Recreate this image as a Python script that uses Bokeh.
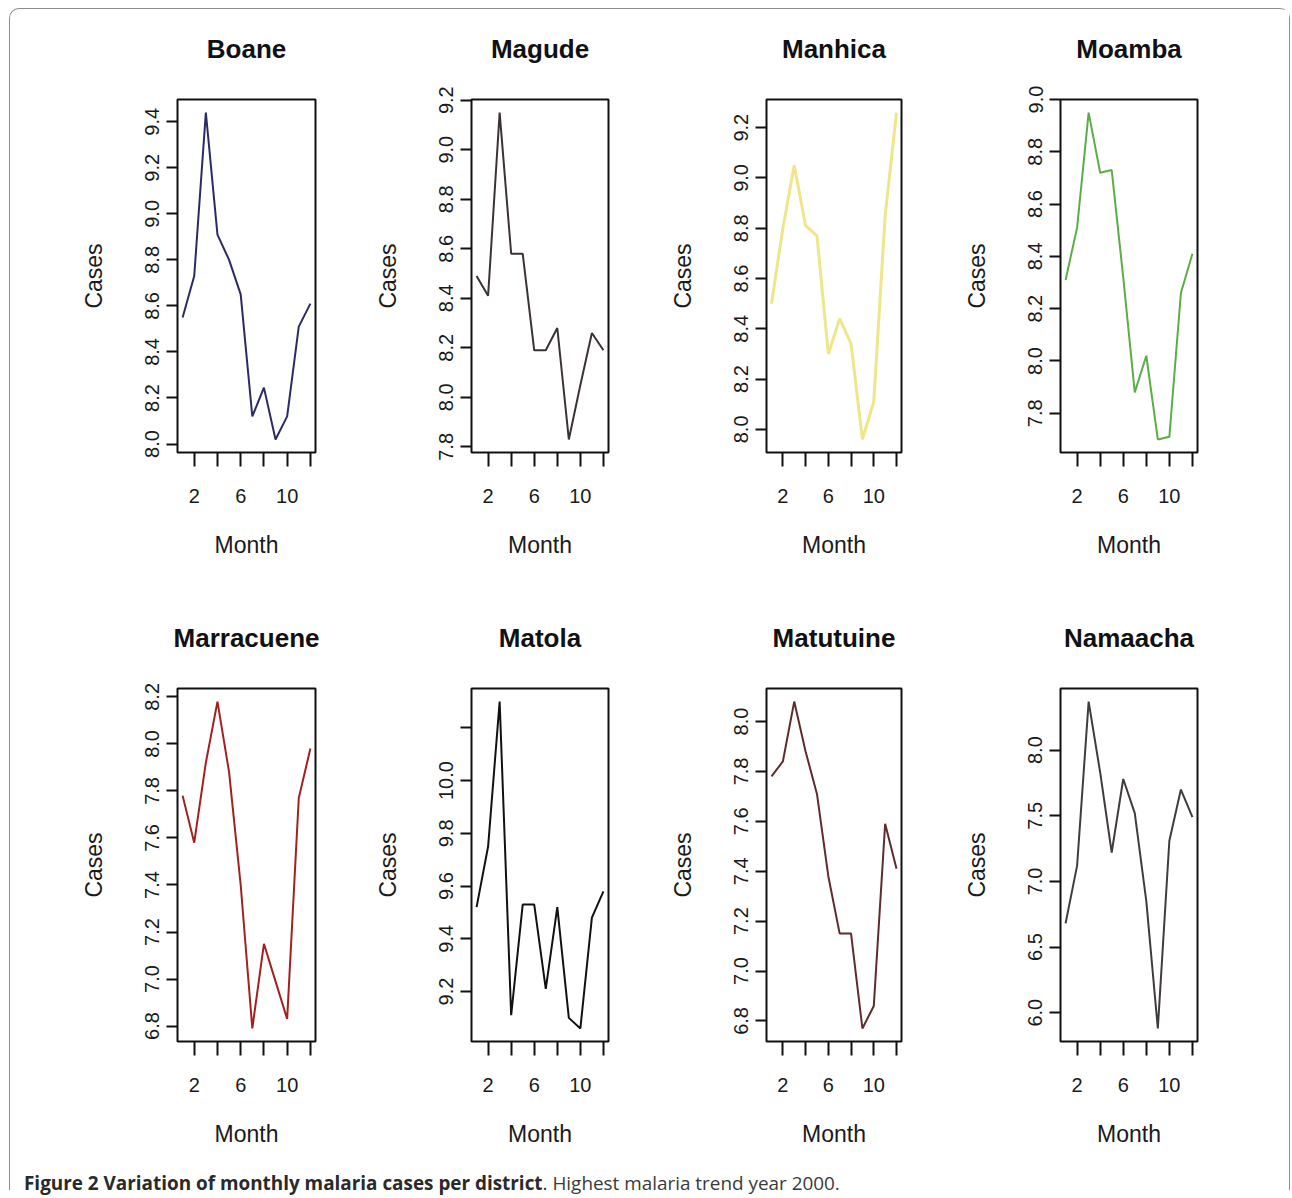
import math
from bokeh.plotting import figure
from bokeh.layouts import row, column
from bokeh.models import Range1d, FixedTicker, Div, Spacer, PrintfTickFormatter, Title
from bokeh.embed import file_html
from bokeh.resources import INLINE

# ---------------- data ----------------
months = [1, 2, 3, 4, 5, 6, 7, 8, 9, 10, 11, 12]
districts = ["Boane", "Magude", "Manhica", "Moamba",
             "Marracuene", "Matola", "Matutuine", "Namaacha"]

boane = [8.55, 8.73, 9.44, 8.91, 8.80, 8.65, 8.12, 8.245, 8.02, 8.12, 8.51, 8.61]
magude = [8.49, 8.41, 9.15, 8.58, 8.58, 8.19, 8.19, 8.28, 7.83, 8.05, 8.26, 8.19]
manhica = [8.50, 8.80, 9.05, 8.81, 8.77, 8.30, 8.44, 8.34, 7.96, 8.11, 8.85, 9.26]
moamba = [8.31, 8.51, 8.95, 8.72, 8.73, 8.32, 7.88, 8.02, 7.70, 7.71, 8.26, 8.41]
marracuene = [7.78, 7.58, 7.92, 8.18, 7.88, 7.40, 6.79, 7.15, 6.99, 6.83, 7.77, 7.98]
matola = [9.52, 9.75, 10.30, 9.11, 9.53, 9.53, 9.21, 9.52, 9.10, 9.06, 9.48, 9.58]
matutuine = [7.78, 7.84, 8.08, 7.88, 7.71, 7.38, 7.15, 7.15, 6.77, 6.86, 7.59, 7.41]
namaacha = [6.68, 7.12, 8.37, 7.83, 7.22, 7.78, 7.52, 6.85, 5.88, 7.31, 7.70, 7.49]

series = [boane, magude, manhica, moamba, marracuene, matola, matutuine, namaacha]

# labelled y ticks and unlabelled y ticks per district
ytick_labelled = [
    [8.0, 8.2, 8.4, 8.6, 8.8, 9.0, 9.2, 9.4],
    [7.8, 8.0, 8.2, 8.4, 8.6, 8.8, 9.0, 9.2],
    [8.0, 8.2, 8.4, 8.6, 8.8, 9.0, 9.2],
    [7.8, 8.0, 8.2, 8.4, 8.6, 8.8, 9.0],
    [6.8, 7.0, 7.2, 7.4, 7.6, 7.8, 8.0, 8.2],
    [9.2, 9.4, 9.6, 9.8, 10.0],
    [6.8, 7.0, 7.2, 7.4, 7.6, 7.8, 8.0],
    [6.0, 6.5, 7.0, 7.5, 8.0],
]
ytick_unlabelled = [[], [], [], [], [], [10.2], [], []]

xtick_labelled = [2, 6, 10]
xtick_unlabelled = [4, 8, 12]

colors = ["#2b2a66", "#3b3333", "#efe68a", "#5aae45",
          "#a3201f", "#111111", "#5e2c2c", "#403c3c"]
line_widths = [2, 2, 3, 2, 2, 2, 2, 2]

# ---------------- layout geometry ----------------
FONT = "Liberation Sans"
LEFT = 120
TOP = 90
FRAME_H = 353
SPACER_W = 47
frame_w = [138, 137, 135, 137]
fig_w = [294, 295, 294, 349]
row_h = [589, 552]
CAP_H = 40
TOTAL_W = SPACER_W + sum(fig_w)


def make_panel(i):
    col = i % 4
    r = i // 4
    ys = series[i]
    lo, hi = min(ys), max(ys)
    pad = 0.04 * (hi - lo)
    p = figure(width=fig_w[col], height=row_h[r],
               x_range=Range1d(1 - 0.04 * 11, 12 + 0.04 * 11),
               y_range=Range1d(lo - pad, hi + pad),
               output_backend="svg", toolbar_location=None,
               min_border_left=LEFT,
               min_border_right=fig_w[col] - LEFT - frame_w[col],
               min_border_top=TOP,
               min_border_bottom=row_h[r] - TOP - FRAME_H,
               background_fill_color="white", border_fill_color="white")
    p.grid.visible = False
    p.outline_line_color = "#111111"
    p.outline_line_width = 2
    p.outline_line_alpha = 1.0

    p.line(months, ys, line_color=colors[i], line_width=line_widths[i])

    # gap between the title and the frame
    p.add_layout(Title(text=" ", text_font_size="2px", standoff=30), "above")

    # title
    p.title.text = districts[i]
    p.title.align = "center"
    p.title.text_font = FONT
    p.title.text_font_size = "26px"
    p.title.text_font_style = "bold"
    p.title.text_color = "#111111"
    p.title.standoff = 4

    # x axis
    xa = p.xaxis[0]
    xa.ticker = FixedTicker(ticks=xtick_labelled, minor_ticks=xtick_unlabelled)
    xa.axis_label = "Month"
    xa.axis_line_color = None
    for ax in (xa, p.yaxis[0]):
        ax.major_tick_line_color = "#111111"
        ax.minor_tick_line_color = "#111111"
        ax.major_tick_line_width = 2
        ax.minor_tick_line_width = 2
        ax.major_tick_in = 0
        ax.minor_tick_in = 0
        ax.major_label_text_font = FONT
        ax.major_label_text_font_size = "20px"
        ax.major_label_text_color = "#1a1a1a"
        ax.axis_label_text_font = FONT
        ax.axis_label_text_font_size = "23px"
        ax.axis_label_text_font_style = "normal"
        ax.axis_label_text_color = "#1a1a1a"
    xa.major_tick_out = 14
    xa.minor_tick_out = 14
    xa.major_label_standoff = 22
    xa.axis_label_standoff = 26

    ya = p.yaxis[0]
    ya.ticker = FixedTicker(ticks=ytick_labelled[i], minor_ticks=ytick_unlabelled[i])
    ya.formatter = PrintfTickFormatter(format="%.1f")
    ya.axis_label = "Cases"
    ya.axis_line_color = None
    ya.major_tick_out = 11
    ya.minor_tick_out = 11
    ya.major_label_orientation = "vertical"
    ya.major_label_standoff = 7
    ya.axis_label_standoff = 36
    return p


panels = [make_panel(i) for i in range(8)]

row1 = row(Spacer(width=SPACER_W, height=row_h[0]), *panels[0:4])
row2 = row(Spacer(width=SPACER_W, height=row_h[1]), *panels[4:8])

caption = Div(
    text=('<div style="font-family:\'Open Sans\'; font-size:18.9px; color:#2a2a2a; '
          'margin-left:9px; margin-top:18px; line-height:20px; white-space:nowrap;">'
          '<b>Figure 2 Variation of monthly malaria cases per district</b>. '
          '<span style="color:#3a3a3a;">Highest malaria trend year 2000.</span></div>'),
    width=TOTAL_W, height=CAP_H)

layout = column(row1, row2, caption,
                width=TOTAL_W + 2, height=sum(row_h) + CAP_H + 1,
                styles={"margin-left": "9px", "margin-top": "8px",
                        "border-top": "1px solid #8c8c8c",
                        "border-left": "1px solid #8c8c8c",
                        "border-right": "1px solid #8c8c8c",
                        "border-radius": "10px 10px 0 0"})

with open("out.html", "w") as f:
    f.write(file_html(layout, INLINE))
